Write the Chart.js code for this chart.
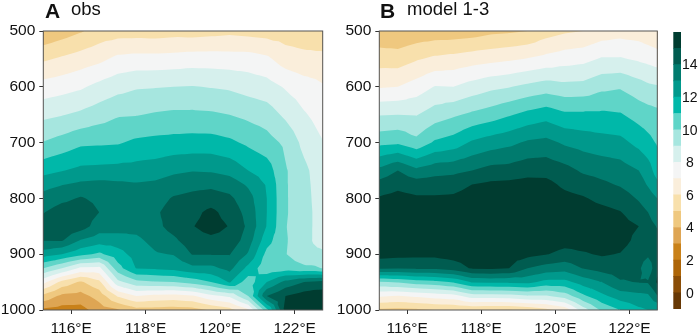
<!DOCTYPE html>
<html>
<head>
<meta charset="utf-8">
<title>obs vs model 1-3</title>
<script src="https://cdn.jsdelivr.net/npm/chart.js@4"></script>
<style>
  html, body { margin: 0; padding: 0; background: #fff; }
  #wrap { position: relative; width: 699px; height: 334px; overflow: hidden; font-family: "Liberation Sans", Arial, sans-serif; color: #111; }
  canvas { position: absolute; top: 0; }
  .letter { position: absolute; top: -1px; font-size: 21px; font-weight: bold; line-height: 24px; }
  .name { position: absolute; top: -3px; font-size: 18.5px; line-height: 24px; }
</style>
</head>
<body>
<div id="wrap">
  <canvas id="panelA" width="330" height="334" style="left:0"></canvas>
  <canvas id="panelB" width="325" height="334" style="left:336px"></canvas>
  <canvas id="colorBar" width="39" height="334" style="left:660px"></canvas>
  <span class="letter" style="left:45px">A</span><span class="name" style="left:71px">obs</span>
  <span class="letter" style="left:380px">B</span><span class="name" style="left:407px">model 1-3</span>
</div>
<script>
const lons = [115.25, 115.75, 116.25, 116.75, 117.25, 117.75, 118.25, 118.75, 119.25, 119.75, 120.25, 120.75, 121.25, 121.75, 122.25, 122.5, 122.75];
const levels = [500, 550, 600, 650, 700, 750, 775, 800, 825, 850, 875, 900, 925, 950, 975, 1000];
const lonTicks = [116, 118, 120, 122];
const levelTicks = [500, 600, 700, 800, 900, 1000];
const barTicks = [0, 2, 4, 6, 8, 10, 12, 14];

// one row per longitude, top to bottom in pressure
const obsValues = [
  [4.1, 5.85, 7.4, 8.75, 10.05, 11.65, 12.65, 13.35, 13.95, 14.5, 14.05, 12.5, 10, 7.3, 4.7, 2.8],
  [4.5, 6.15, 7.6, 8.95, 10.4, 11.95, 12.95, 13.75, 14.5, 14.7, 14.1, 12, 9, 5.7, 3.75, 2.6],
  [4.9, 6.45, 7.85, 9.2, 10.8, 12.25, 13.2, 14.1, 14.6, 14.5, 12.95, 11.3, 7.8, 4.85, 3.63, 2.6],
  [5.4, 6.75, 8.3, 9.55, 10.85, 12.3, 13.3, 13.75, 14, 13.5, 12.5, 10.8, 7.7, 5.75, 4.4, 3.5],
  [5.55, 7.25, 8.65, 9.9, 10.9, 12.35, 13.2, 13.55, 13.75, 13.5, 12.5, 11.6, 10.6, 8.7, 6.1, 3.9],
  [5.55, 7.35, 8.9, 9.95, 11.2, 12.4, 13.1, 13.45, 13.7, 13.3, 12.8, 12.4, 12.05, 9.7, 7, 4.6],
  [5.5, 7.35, 8.95, 10.1, 11.3, 12.5, 13.2, 13.6, 13.85, 13.7, 13.3, 12.9, 12.15, 9.9, 6.7, 4.6],
  [5.6, 7.4, 9, 10.2, 11.35, 12.8, 13.5, 14.1, 14.4, 14.4, 13.8, 13.05, 12.3, 10, 6.6, 4.5],
  [5.55, 7.5, 9.05, 10.2, 11.4, 12.95, 13.7, 14.3, 14.7, 14.95, 14.6, 14.05, 12.75, 10.4, 6.85, 4.6],
  [5.65, 7.5, 8.95, 10.15, 11.4, 12.9, 13.75, 14.5, 15.25, 15.4, 14.75, 14.05, 12.75, 11, 7.7, 5.1],
  [5.75, 7.45, 8.85, 10, 11.2, 12.65, 13.55, 14.2, 14.6, 14.95, 14.7, 14.05, 13.3, 12.1, 8.2, 5.6],
  [5.65, 7.45, 8.6, 9.75, 10.8, 12, 12.85, 13.4, 13.65, 13.8, 13.5, 12.9, 11.7, 10.45, 10, 6.8],
  [5.55, 7.2, 8.4, 9.5, 10.4, 11.5, 11.9, 12, 12, 11.95, 11.4, 10.7, 10.3, 12, 14, 10.7],
  [5.5, 6.5, 7.9, 8.8, 9.8, 10.1, 10.1, 10.1, 10.1, 10.05, 10.1, 10.05, 10.5, 13.3, 15, 15.3],
  [5.4, 6.3, 7.45, 8.1, 8.7, 9.25, 9.35, 9.4, 9.4, 9.4, 9.3, 9.35, 10.2, 14, 15.5, 15.8],
  [5.3, 6.3, 7.3, 7.85, 8.35, 8.8, 8.85, 8.9, 8.95, 8.95, 8.95, 9.15, 10.2, 14.2, 15.6, 15.9],
  [5.2, 6.3, 7.1, 7.55, 8.05, 8.25, 8.4, 8.5, 8.6, 8.75, 8.7, 9.15, 9.95, 14.3, 15.6, 15.9]
];
const modelValues = [
  [4.2, 5.55, 6.9, 8.95, 10.7, 13.3, 14.4, 15.1, 15.6, 15.8, 15.7, 15.4, 14.2, 9.9, 7.1, 4.8],
  [4.1, 5.5, 7, 9, 10.85, 14, 14.75, 15.3, 15.7, 15.8, 15.7, 15.3, 14.1, 10.1, 6.95, 4.7],
  [4.3, 5.9, 7.45, 8.95, 10.3, 13.25, 14.5, 15.15, 15.5, 15.6, 15.5, 15.25, 14.2, 10.5, 7.15, 4.8],
  [4.4, 6.2, 8.05, 9.5, 11.15, 13.65, 14.5, 15.15, 15.5, 15.6, 15.5, 15.25, 14.2, 10.7, 7.4, 5],
  [4.4, 6.35, 8, 9.85, 11.45, 13.75, 14.55, 15.2, 15.55, 15.7, 15.7, 15.4, 14.5, 11.1, 7.6, 5],
  [4.5, 6.55, 8.4, 10.2, 12.15, 14, 15, 15.5, 15.8, 15.9, 15.8, 15.6, 15.1, 12.1, 8.5, 5.1],
  [4.75, 6.7, 8.75, 10.5, 12.5, 14.35, 15.2, 15.6, 15.8, 15.9, 15.8, 15.6, 15.2, 12.2, 8.5, 5],
  [4.85, 6.85, 8.95, 10.9, 12.75, 14.4, 15.25, 15.6, 15.8, 15.9, 15.8, 15.5, 15, 12.2, 8.6, 4.95],
  [5, 7.05, 9.25, 11.3, 13.15, 14.65, 15.35, 15.7, 15.85, 15.9, 15.7, 15.3, 14, 12.3, 8.9, 5.2],
  [5.55, 7.3, 9.5, 11.6, 13.3, 14.65, 15.3, 15.65, 15.8, 15.8, 15.6, 15.05, 13.6, 11.7, 8.9, 5.7],
  [5.85, 7.55, 9.3, 11.2, 12.85, 14.35, 14.8, 15.3, 15.6, 15.7, 15.4, 14.7, 13.4, 11.7, 9.45, 6.3],
  [6, 7.7, 9.35, 11.2, 12.6, 13.85, 14.5, 15.1, 15.45, 15.55, 15.4, 14.9, 14.05, 12.45, 10.8, 8.5],
  [6.4, 8.1, 9.75, 11.2, 12.4, 13.65, 14.2, 14.75, 15.3, 15.5, 15.45, 15.1, 14.4, 13, 11.75, 10.2],
  [6.6, 8.1, 9.9, 11.1, 12.3, 13.45, 13.9, 14.5, 15.05, 15.4, 15.4, 14.95, 14.5, 13.9, 12.5, 11],
  [6.5, 7.85, 9.45, 10.6, 11.7, 13, 13.45, 13.9, 14.4, 15, 14.7, 14.4, 14.2, 14.05, 12.7, 11.8],
  [6.3, 7.7, 9.2, 10.45, 11.3, 12.5, 12.9, 13.5, 14, 14.3, 14.4, 14.2, 13.3, 14.1, 12.8, 12],
  [6.1, 7.5, 9.1, 10.3, 10.9, 11.5, 12.25, 13, 13.5, 13.95, 14.25, 14.55, 14.8, 15.15, 13.95, 12]
];

// lower edge of every colour band, -1 up to 15
const bandFloors = [-1, 0, 1, 2, 3, 4, 5, 6, 7, 8, 9, 10, 11, 12, 13, 14, 15];
const bandColors = ['#673805', '#8a4d07', '#ad6508', '#c98119', '#dea553', '#efc87f', '#f8e0ac', '#faeedb', '#f4f5f5', '#d6f0ed', '#a6e6df', '#5fd5c8', '#00b8a9', '#00998c', '#007b6e', '#005c50', '#003c30'];

const fontName = '"Liberation Sans", Arial, sans-serif';

function clipAbove(poly, floor) {
    const out = [];
    poly.forEach((p, i) => {
        const q = poly[(i + 1) % poly.length];
        if (p.v >= floor) out.push(p);
        if ((p.v >= floor) !== (q.v >= floor)) {
            const t = (floor - p.v) / (q.v - p.v);
            out.push({ x: p.x + t * (q.x - p.x), y: p.y + t * (q.y - p.y), v: floor });
        }
    });
    return out;
}

// Filled contours: each band is painted over the one under it
const contourFill = {
    id: 'contourFill',
    beforeDatasetsDraw(chart) {
        const { ctx, scales } = chart;
        const columns = chart.data.datasets[0].columns;
        const node = (i, j) => ({ x: scales.x.getPixelForValue(lons[i]), y: scales.y.getPixelForValue(levels[j]), v: columns[i][j] });
        const triangles = [];
        for (let i = 0; i < lons.length - 1; i++) {
            for (let j = 0; j < levels.length - 1; j++) {
                const a = node(i, j), b = node(i + 1, j), c = node(i + 1, j + 1), d = node(i, j + 1);
                const mid = { x: (a.x + c.x) / 2, y: (a.y + c.y) / 2, v: (a.v + b.v + c.v + d.v) / 4 };
                triangles.push([a, b, mid], [b, c, mid], [c, d, mid], [d, a, mid]);
            }
        }
        ctx.save();
        bandFloors.forEach((floor, k) => {
            ctx.beginPath();
            triangles.forEach(tri => {
                const poly = k === 0 ? tri : clipAbove(tri, floor);
                if (poly.length < 3) return;
                poly.forEach((p, n) => n ? ctx.lineTo(p.x, p.y) : ctx.moveTo(p.x, p.y));
                ctx.closePath();
            });
            ctx.fillStyle = bandColors[k];
            ctx.fill();
        });
        ctx.restore();
    },
    afterDatasetsDraw(chart) {
        const { ctx, chartArea: a } = chart;
        ctx.save();
        ctx.strokeStyle = '#555';
        ctx.lineWidth = 1;
        ctx.strokeRect(a.left, a.top, a.right - a.left, a.bottom - a.top);
        ctx.restore();
    }
};

function panel(canvasId, columns, leftWidth, rightPad) {
    const points = [];
    lons.forEach((lon, i) => levels.forEach((p, j) => points.push({ x: lon, y: p })));
    return new Chart(document.getElementById(canvasId), {
        type: 'scatter',
        data: { datasets: [{ data: points, columns, pointRadius: 0, pointHoverRadius: 0 }] },
        options: {
            responsive: false,
            animation: false,
            events: [],
            layout: { padding: { top: 31, right: rightPad, left: 0, bottom: 0 } },
            plugins: { legend: { display: false }, tooltip: { enabled: false } },
            scales: {
                x: {
                    type: 'linear', min: 115.25, max: 122.75,
                    afterBuildTicks: s => { s.ticks = lonTicks.map(value => ({ value })); },
                    afterFit: s => { s.height = 24; },
                    grid: { drawOnChartArea: false, tickLength: 4, tickColor: '#333' },
                    border: { display: false },
                    ticks: { font: { family: fontName, size: 15.5 }, color: '#111', padding: 5, maxRotation: 0, callback: v => v + '°E' }
                },
                y: {
                    type: 'linear', reverse: true, min: 500, max: 1000,
                    afterBuildTicks: s => { s.ticks = levelTicks.map(value => ({ value })); },
                    afterFit: s => { s.width = leftWidth; },
                    grid: { drawOnChartArea: false, tickLength: 4, tickColor: '#333' },
                    border: { display: false },
                    ticks: { font: { family: fontName, size: 15.5 }, color: '#111', padding: 4, callback: v => String(v) }
                }
            }
        },
        plugins: [contourFill]
    });
}

panel('panelA', obsValues, 43.3, 7.3);
panel('panelB', modelValues, 43.3, 3.7);

new Chart(document.getElementById('colorBar'), {
    type: 'bar',
    data: {
        labels: [''],
        datasets: bandFloors.map((floor, k) => ({ data: [[floor, floor + 1]], backgroundColor: bandColors[k], borderWidth: 0, barPercentage: 1, categoryPercentage: 1 }))
    },
    options: {
        responsive: false,
        animation: false,
        events: [],
        layout: { padding: { top: 32, left: 13.3, bottom: 25, right: 0 } },
        plugins: { legend: { display: false }, tooltip: { enabled: false } },
        scales: {
            x: { display: false, stacked: true },
            y: {
                position: 'right', min: -1, max: 16,
                afterBuildTicks: s => { s.ticks = barTicks.map(value => ({ value })); },
                afterFit: s => { s.width = 18; },
                grid: { display: false, drawTicks: false },
                border: { display: false },
                ticks: { font: { family: fontName, size: 14 }, color: '#111', padding: 1, crossAlign: 'center', labelOffset: 1 }
            }
        }
    }
});
</script>
</body>
</html>
